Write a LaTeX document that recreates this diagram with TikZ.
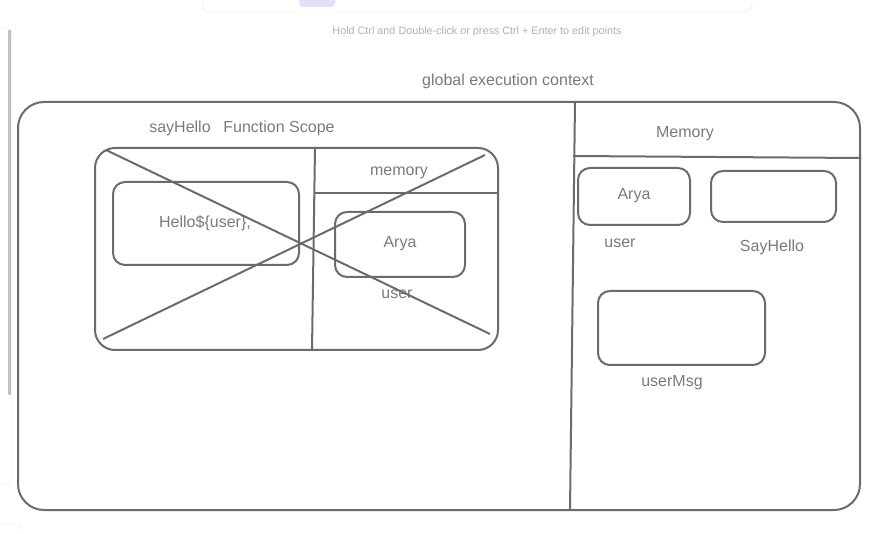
\documentclass[tikz,border=0pt]{standalone}
\usepackage{fontspec}
\setmainfont{Liberation Sans}
\definecolor{inkgray}{HTML}{6B6B6B}
\definecolor{txtgray}{HTML}{7A7A7A}
\definecolor{hintgray}{HTML}{B0B0B0}
\definecolor{panelline}{HTML}{E4E4E4}
\definecolor{lavender}{HTML}{E2E0FC}
\tikzset{
  sketch/.style={draw=inkgray,line width=2pt,rounded corners=12pt,inner sep=0pt},
  label/.style={text=txtgray,font=\fontsize{16}{18}\selectfont,inner sep=0pt},
  rule/.style={draw=inkgray,line width=2pt}
}
\begin{document}
\begin{tikzpicture}[x=1pt,y=-1pt]
\useasboundingbox (0,0) rectangle (878,534);
% editor chrome
\draw[panelline,fill=white,rounded corners=8pt] (202,-12) rectangle (752,12);
\fill[lavender,rounded corners=4pt] (299,-6) rectangle (335,7);
\node[text=hintgray,font=\fontsize{10.8}{12}\selectfont] (hint) at (477,31.5) {Hold Ctrl and Double-click or press Ctrl + Enter to edit points};
\draw[panelline,rounded corners=6pt] (-5,28) -- (12,28) -- (12,485) -- (-5,485);
\fill[hintgray!80,rounded corners=1pt] (8,30) rectangle (11,395);
\draw[panelline,rounded corners=5pt] (-5,524) -- (22,524) -- (22,540);
% global execution context
\node[label] (gec) at (508,81) {global execution context};
\node[sketch,rounded corners=26pt,minimum width=842pt,minimum height=408pt] (global) at (439,306) {};
\draw[rule] (575,102) -- (570,510);
\draw[rule] (573,156) -- (861,158);
\node[label] (gmem) at (685,134) {Memory};
\node[sketch,minimum width=112pt,minimum height=57pt] (gArya) at (634,196.5) {};
\node[label] (gAryaT) at (634,196) {Arya};
\node[label] (guser) at (620,243) {user};
\node[sketch,minimum width=125pt,minimum height=51pt] (gSay) at (773.5,196.5) {};
\node[label] (gSayT) at (772,247) {SayHello};
\node[sketch,minimum width=167pt,minimum height=74pt] (gMsg) at (681.5,328) {};
\node[label] (gMsgT) at (672,383) {userMsg};
% sayHello function scope
\node[label] (fname) at (180,128) {sayHello};
\node[label] (fscope) at (279,128) {Function Scope};
\node[sketch,rounded corners=20pt,minimum width=403pt,minimum height=202pt] (fbox) at (296.5,249) {};
\draw[rule] (315,148) -- (312,350);
\draw[rule] (315,193) -- (498,193);
\node[label] (fmem) at (399,173) {memory};
\node[sketch,minimum width=186pt,minimum height=83pt] (fcode) at (206,223.5) {};
\node[label] (fcodeT) at (205,223) {Hello\$\{user\},};
\node[sketch,minimum width=130pt,minimum height=65pt] (fArya) at (400,244.5) {};
\node[label] (fAryaT) at (400,244) {Arya};
\node[label] (fuser) at (397,294) {user};
% crossed out
\draw[rule] (106,150) -- (490,334);
\draw[rule] (103,339) -- (485,155);
\end{tikzpicture}
\end{document}
